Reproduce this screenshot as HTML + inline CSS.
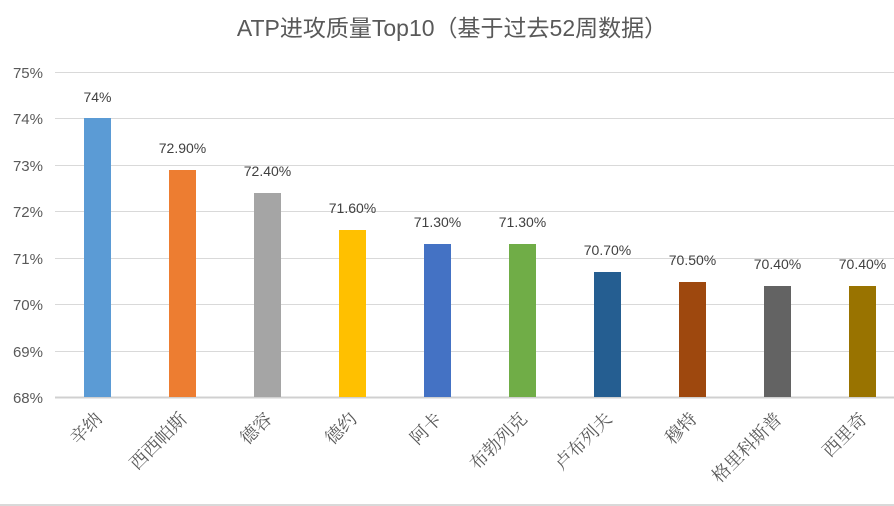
<!DOCTYPE html>
<html><head><meta charset="utf-8"><style>body{margin:0;background:#fff}svg{display:block}</style></head><body>
<svg width="894" height="506" xmlns="http://www.w3.org/2000/svg" font-family="Liberation Sans, Noto Sans CJK SC, sans-serif">
<rect width="894" height="506" fill="#fff"/>
<text x="452" y="36" text-anchor="middle" font-size="23" fill="#595959" font-family="Liberation Sans, Noto Sans CJK SC, sans-serif">ATP进攻质量Top10（基于过去52周数据）</text>
<g stroke="#d9d9d9" stroke-width="1">
<line x1="55" x2="894" y1="72.5" y2="72.5"/><line x1="55" x2="894" y1="118.5" y2="118.5"/><line x1="55" x2="894" y1="165.5" y2="165.5"/><line x1="55" x2="894" y1="211.5" y2="211.5"/><line x1="55" x2="894" y1="258.5" y2="258.5"/><line x1="55" x2="894" y1="304.5" y2="304.5"/><line x1="55" x2="894" y1="351.5" y2="351.5"/>
</g>
<line x1="55" x2="894" y1="397.5" y2="397.5" stroke="#d0d0d0" stroke-width="2"/>
<line x1="0" x2="894" y1="505" y2="505" stroke="#d9d9d9" stroke-width="2"/>
<g font-size="15" fill="#595959" text-anchor="end">
<text x="43" y="78">75%</text><text x="43" y="124">74%</text><text x="43" y="171">73%</text><text x="43" y="217">72%</text><text x="43" y="264">71%</text><text x="43" y="310">70%</text><text x="43" y="357">69%</text><text x="43" y="403">68%</text>
</g>
<g>
<rect x="84" y="118" width="27" height="279" fill="#5B9BD5"/>
<rect x="169" y="170" width="27" height="227" fill="#ED7D31"/>
<rect x="254" y="193" width="27" height="204" fill="#A5A5A5"/>
<rect x="339" y="230" width="27" height="167" fill="#FFC000"/>
<rect x="424" y="244" width="27" height="153" fill="#4472C4"/>
<rect x="509" y="244" width="27" height="153" fill="#70AD47"/>
<rect x="594" y="272" width="27" height="125" fill="#255E91"/>
<rect x="679" y="282" width="27" height="115" fill="#9E480E"/>
<rect x="764" y="286" width="27" height="111" fill="#636363"/>
<rect x="849" y="286" width="27" height="111" fill="#997300"/>
</g>
<g font-size="14" fill="#404040" text-anchor="middle">
<text x="97.5" y="102">74%</text><text x="182.5" y="153">72.90%</text><text x="267.5" y="176">72.40%</text><text x="352.5" y="213">71.60%</text><text x="437.5" y="227">71.30%</text><text x="522.5" y="227">71.30%</text><text x="607.5" y="255">70.70%</text><text x="692.5" y="265">70.50%</text><text x="777.5" y="269">70.40%</text><text x="862.5" y="269">70.40%</text>
</g>
<g font-size="18" fill="#595959" text-anchor="end" font-family="Liberation Serif, Noto Serif CJK SC, serif">
<text transform="translate(103,420) rotate(-45)">辛纳</text>
<text transform="translate(188,420) rotate(-45)">西西帕斯</text>
<text transform="translate(273,420) rotate(-45)">德容</text>
<text transform="translate(358,420) rotate(-45)">德约</text>
<text transform="translate(443,420) rotate(-45)">阿卡</text>
<text transform="translate(528,420) rotate(-45)">布勃列克</text>
<text transform="translate(613,420) rotate(-45)">卢布列夫</text>
<text transform="translate(698,420) rotate(-45)">穆特</text>
<text transform="translate(783,420) rotate(-45)">格里科斯普</text>
<text transform="translate(868,420) rotate(-45)">西里奇</text>
</g>
</svg>
</body></html>
